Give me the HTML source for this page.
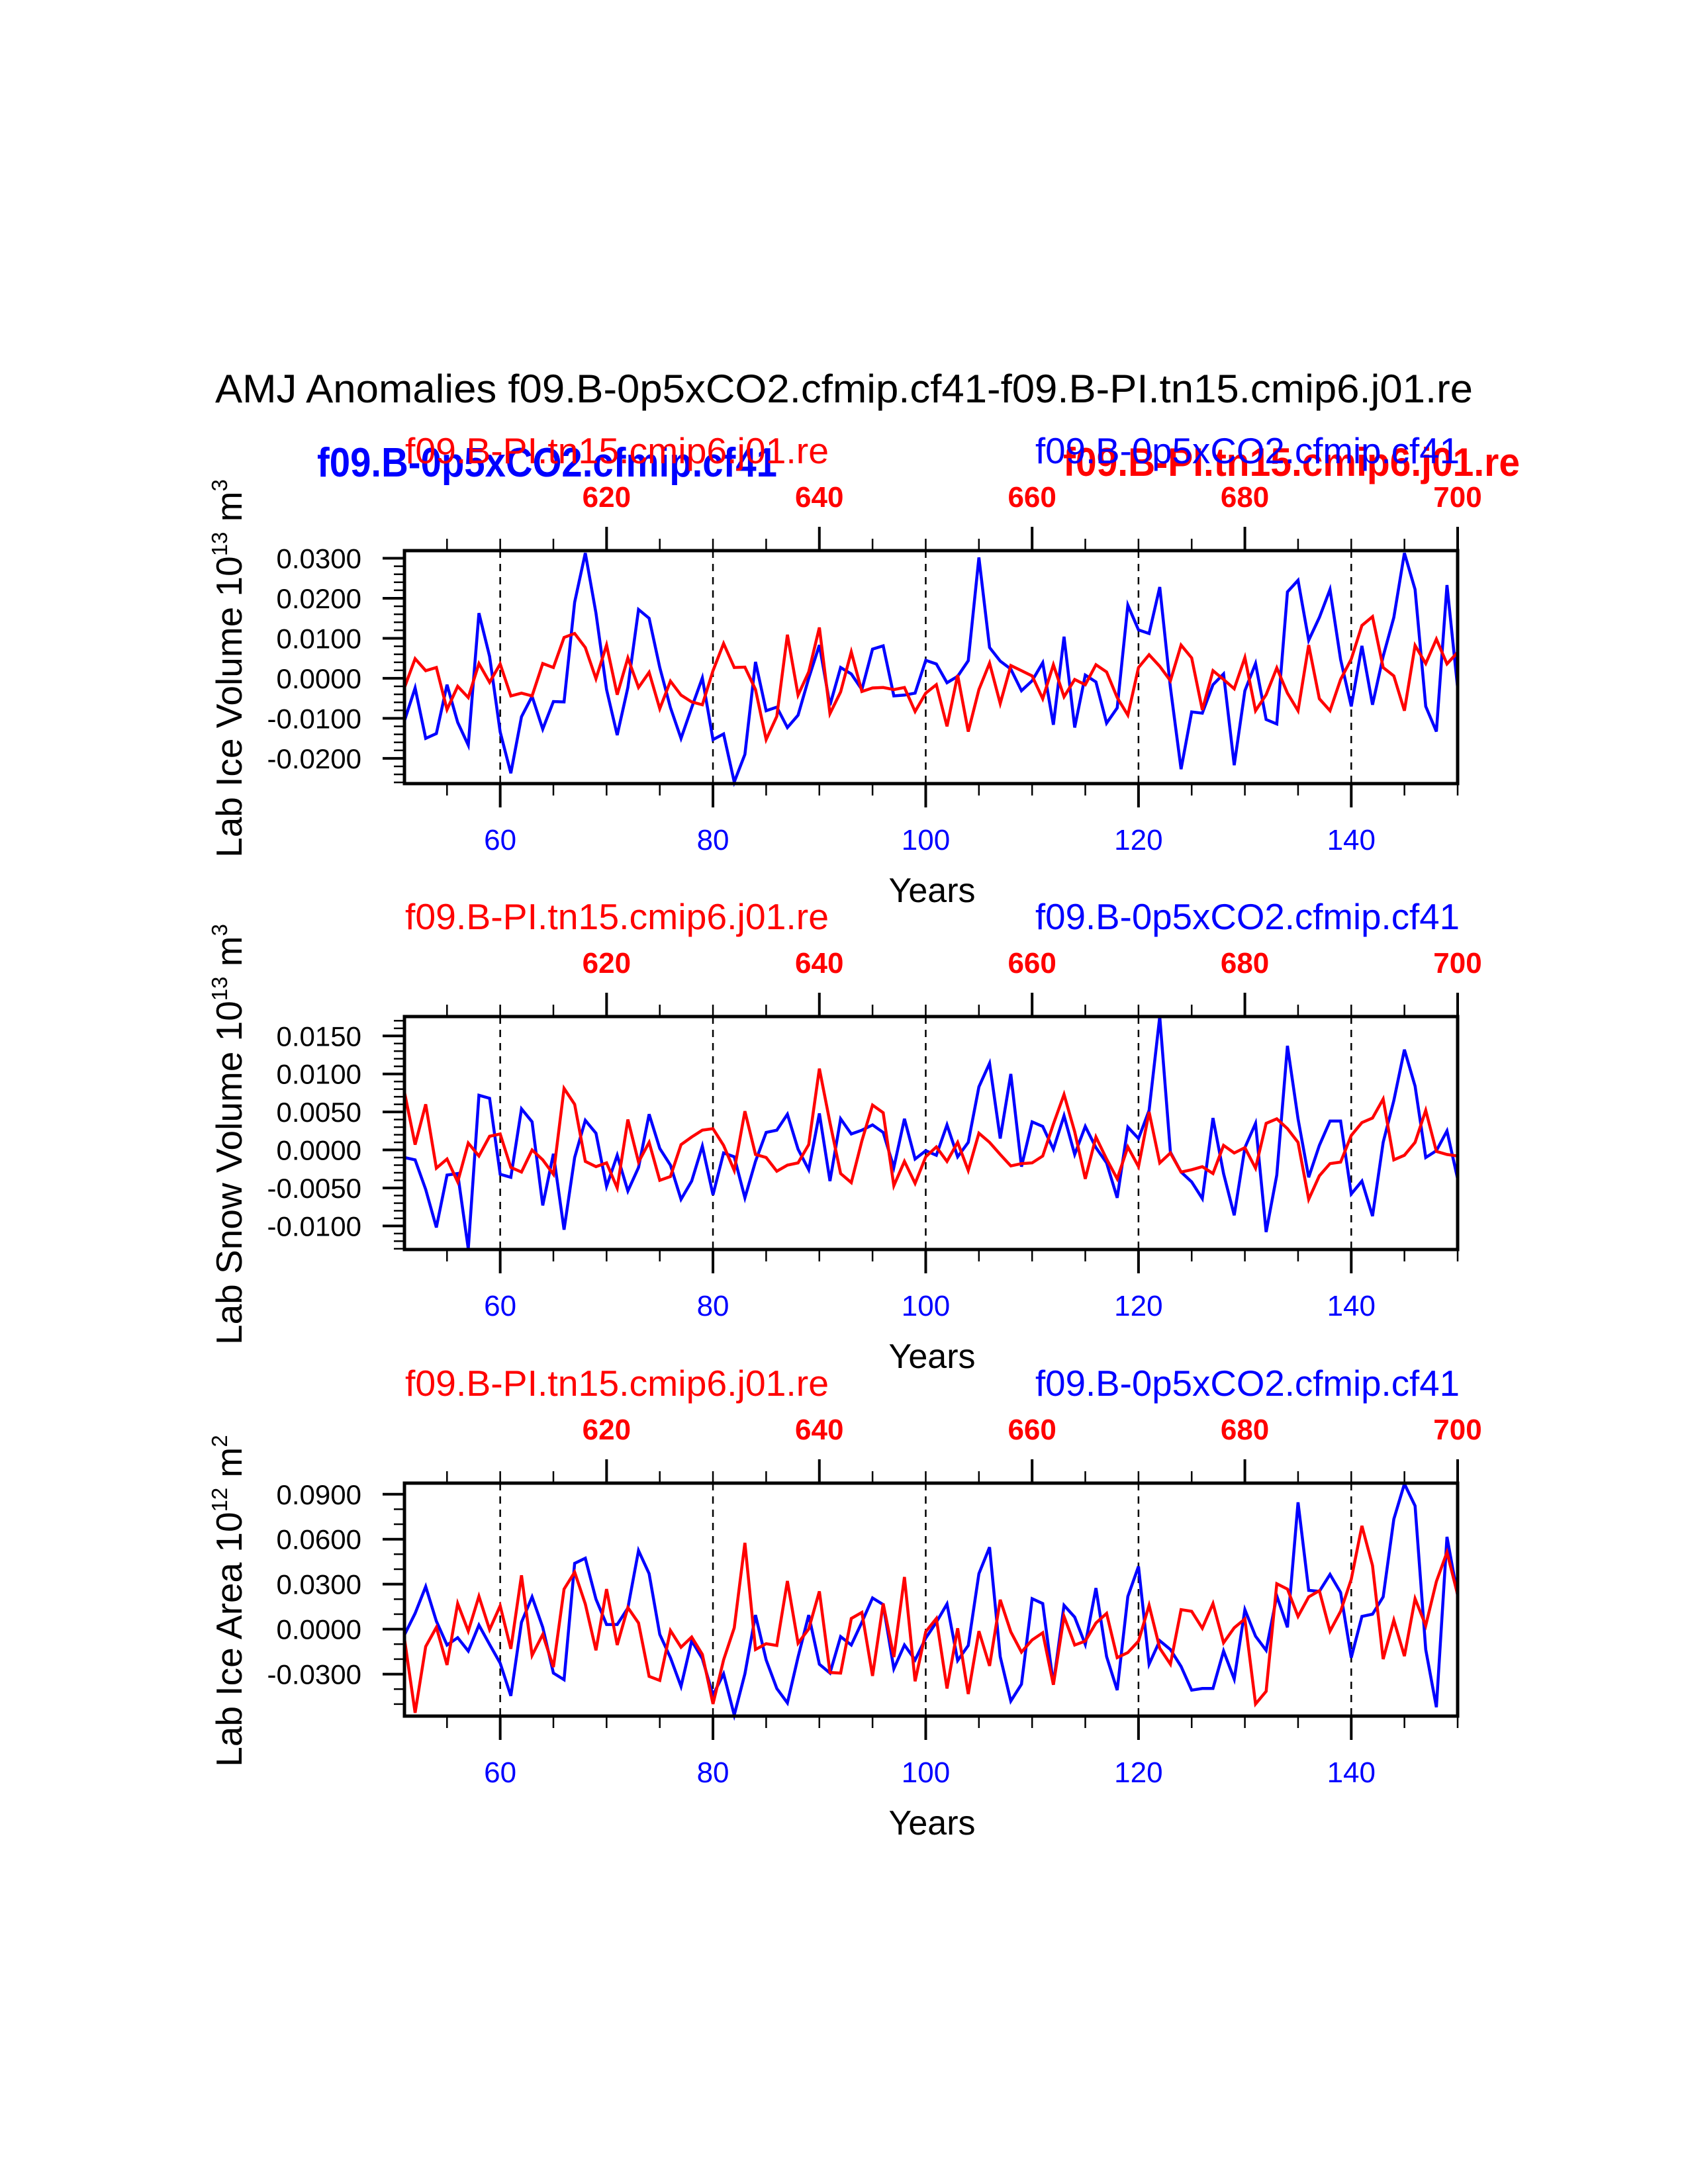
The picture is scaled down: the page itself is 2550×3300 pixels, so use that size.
<!DOCTYPE html>
<html><head><meta charset="utf-8">
<style>
html,body{margin:0;padding:0;background:#fff;}
svg{display:block;}
text{font-family:"Liberation Sans",Arial,sans-serif;}
</style></head>
<body>
<svg id="chart" width="2550" height="3300" viewBox="0 0 2550 3300" xmlns="http://www.w3.org/2000/svg">
<rect x="0" y="0" width="2550" height="3300" fill="#fff"/>
<text x="325" y="608" font-size="60" textLength="1900" lengthAdjust="spacingAndGlyphs">AMJ Anomalies f09.B-0p5xCO2.cfmip.cf41-f09.B-PI.tn15.cmip6.j01.re</text>
<text x="479" y="720" font-size="62" font-weight="bold" fill="#0000ff" textLength="695" lengthAdjust="spacingAndGlyphs">f09.B-0p5xCO2.cfmip.cf41</text>
<text x="1606" y="719" font-size="60" font-weight="bold" fill="#ff0000" textLength="690" lengthAdjust="spacingAndGlyphs">f09.B-PI.tn15.cmip6.j01.re</text>
<g id="plots"></g>
</svg>
<script>
// ---- data (years 51..150) ----
const years = [];
for (let y = 51; y <= 150; y++) years.push(y);

const iceVolBlue = [-0.0106,-0.0024,-0.015,-0.0138,-0.0016,-0.011,-0.0167,0.0163,0.0055,-0.0134,
-0.0237,-0.0096,-0.0045,-0.0127,-0.0058,-0.0059,0.019,0.0313,0.0163,-0.0028,
-0.0142,-0.0023,0.0172,0.015,0.0027,-0.0073,-0.015,-0.0073,0.0001,-0.0153,
-0.0139,-0.0259,-0.019,0.0041,-0.0081,-0.0072,-0.0123,-0.0092,0.0,0.0083,
-0.0067,0.0027,0.0011,-0.0028,0.0073,0.0081,-0.0044,-0.0042,-0.0037,0.0045,
0.0036,-0.0011,0.0005,0.0044,0.0302,0.0077,0.0043,0.0023,-0.0031,-0.0006,
0.0039,-0.0116,0.0104,-0.0123,0.0008,-0.0009,-0.0112,-0.0074,0.0183,0.0121,
0.0112,0.0228,-0.0023,-0.0227,-0.0084,-0.0087,-0.0016,0.0011,-0.0217,-0.0031,
0.0037,-0.0103,-0.0114,0.0216,0.0245,0.0095,0.0152,0.0222,0.0047,-0.007,
0.0081,-0.0066,0.0055,0.0152,0.0313,0.0222,-0.007,-0.0133,0.0233,-0.0024];
const iceVolRed = [-0.0023,0.0049,0.0019,0.0027,-0.0078,-0.002,-0.0048,0.0037,-0.001,0.0036,
-0.0044,-0.0037,-0.0044,0.0037,0.0027,0.0102,0.0112,0.0077,-0.0001,0.0083,
-0.0041,0.0051,-0.0023,0.0015,-0.0076,-0.0007,-0.0042,-0.0059,-0.0066,0.0019,
0.0087,0.0027,0.0028,-0.0028,-0.0153,-0.0095,0.0109,-0.0042,0.0016,0.0127,
-0.0088,-0.0034,0.0066,-0.0033,-0.0024,-0.0023,-0.0028,-0.0023,-0.0083,-0.0037,
-0.0016,-0.012,0.0008,-0.0133,-0.0028,0.0038,-0.0063,0.0032,0.0019,0.0006,
-0.0051,0.0034,-0.0046,-0.0003,-0.0016,0.0034,0.0016,-0.0048,-0.0092,0.0027,
0.0059,0.003,-0.0006,0.0083,0.0051,-0.0079,0.0019,-0.0003,-0.0026,0.0052,
-0.0081,-0.0041,0.0026,-0.0037,-0.0081,0.0083,-0.0051,-0.0081,-0.0003,0.0048,
0.0132,0.0154,0.0027,0.0006,-0.0081,0.0082,0.0037,0.0098,0.0036,0.0065];
const snowVolBlue = [-0.001,-0.0013,-0.0052,-0.0102,-0.0033,-0.0031,-0.013,0.0072,0.0068,-0.0032,
-0.0036,0.0054,0.0037,-0.0073,-0.0005,-0.0105,-0.001,0.0039,0.0022,-0.0048,
-0.0007,-0.0054,-0.0023,0.0047,0.0002,-0.002,-0.0065,-0.0041,0.0005,-0.0059,
-0.0004,-0.0009,-0.0063,-0.0015,0.0023,0.0026,0.0047,0.0001,-0.0026,0.0048,
-0.0041,0.0041,0.0021,0.0026,0.0033,0.0023,-0.0023,0.0041,-0.0012,-0.0001,
-0.0007,0.0033,-0.0009,0.001,0.0083,0.0114,0.0015,0.01,-0.0022,0.0037,
0.0031,0.0001,0.0045,-0.0006,0.0031,0.0003,-0.0017,-0.0063,0.003,0.0015,
0.0052,0.0176,-0.0003,-0.0029,-0.0042,-0.0064,0.0042,-0.0031,-0.0086,0.0003,
0.0035,-0.0108,-0.0033,0.0137,0.0041,-0.0036,0.0006,0.0038,0.0038,-0.0058,
-0.0041,-0.0087,0.001,0.0065,0.0132,0.0084,-0.001,-0.0001,0.0025,-0.0038];
const snowVolRed = [0.0076,0.0007,0.006,-0.0024,-0.0012,-0.0042,0.0009,-0.0008,0.0018,0.0021,
-0.0023,-0.0029,0.0,-0.0013,-0.0032,0.0081,0.006,-0.0015,-0.0022,-0.0017,
-0.005,0.004,-0.0016,0.001,-0.004,-0.0035,0.0007,0.0017,0.0026,0.0028,
0.0006,-0.0027,0.0051,-0.0006,-0.001,-0.0028,-0.002,-0.0017,0.0007,0.0107,
0.0036,-0.0031,-0.0043,0.0012,0.0059,0.0049,-0.0047,-0.0015,-0.0044,-0.0009,
0.0004,-0.0015,0.001,-0.0027,0.0022,0.001,-0.0006,-0.0021,-0.0018,-0.0017,
-0.0008,0.0034,0.0073,0.0024,-0.0038,0.0017,-0.0012,-0.0038,0.0004,-0.0022,
0.005,-0.0017,-0.0004,-0.0029,-0.0026,-0.0022,-0.0031,0.0006,-0.0004,0.0003,
-0.0024,0.0035,0.0041,0.0028,0.001,-0.0065,-0.0034,-0.0018,-0.0016,0.0019,
0.0036,0.0042,0.0067,-0.0013,-0.0007,0.001,0.0052,-0.0002,-0.0006,-0.0008];
const iceAreaBlue = [-0.0038,0.0105,0.0284,0.0053,-0.0106,-0.0057,-0.0146,0.0027,-0.0102,-0.0227,
-0.0445,0.0046,0.0215,0.0012,-0.0293,-0.0337,0.0439,0.0473,0.02,0.0031,
0.0031,0.0141,0.0524,0.037,-0.0035,-0.019,-0.0382,-0.0077,-0.0197,-0.044,
-0.0298,-0.0573,-0.0298,0.0094,-0.0205,-0.0396,-0.0492,-0.0186,0.0094,-0.0234,
-0.0293,-0.005,-0.0106,0.0046,0.0208,0.0164,-0.0264,-0.0106,-0.0205,-0.006,
0.0046,0.0168,-0.0209,-0.0109,0.037,0.0546,-0.0183,-0.048,-0.0367,0.0203,
0.0171,-0.0367,0.0159,0.008,-0.0102,0.0274,-0.0183,-0.0407,0.0218,0.0418,
-0.0234,-0.0077,-0.0136,-0.0249,-0.0407,-0.0396,-0.0396,-0.0146,-0.0333,0.013,
-0.0047,-0.0141,0.0222,0.0012,0.0846,0.0259,0.0252,0.0365,0.0245,-0.019,
0.0085,0.01,0.0215,0.0734,0.0969,0.0822,-0.0136,-0.0521,0.0616,0.0224];
const iceAreaRed = [-0.0065,-0.0558,-0.0116,0.0012,-0.0239,0.0171,-0.0013,0.0219,-0.0003,0.0156,
-0.0131,0.0359,-0.0175,-0.0035,-0.0253,0.0267,0.038,0.0168,-0.0141,0.0267,
-0.0106,0.0144,0.0041,-0.0315,-0.0342,-0.0009,-0.0121,-0.0053,-0.0168,-0.0499,
-0.0205,0.0009,0.0576,-0.0136,-0.0097,-0.0109,0.0321,-0.0094,0.0001,0.0252,
-0.0289,-0.0293,0.0071,0.0112,-0.0312,0.0171,-0.0186,0.0348,-0.0348,-0.0017,
0.0071,-0.0396,0.0006,-0.0433,-0.0013,-0.0245,0.0196,-0.0018,-0.0153,-0.0072,
-0.0024,-0.0371,0.0085,-0.0106,-0.008,0.0041,0.0105,-0.019,-0.0156,-0.008,
0.0159,-0.0127,-0.0234,0.013,0.0119,0.0006,0.0171,-0.0091,0.0009,0.0068,
-0.0499,-0.0415,0.0303,0.0267,0.0085,0.0215,0.0256,-0.0013,0.0119,0.0333,
0.0689,0.0424,-0.02,0.006,-0.018,0.0203,0.0024,0.0318,0.0513,0.023];

const bottomTickLabels = ["60","80","100","120","140"];
const bottomTickYears = [60,80,100,120,140];
const topTickLabels = ["620","640","660","680","700"];
const topTickYears = [70,90,110,130,150];
const p1Ticks = [0.03,0.02,0.01,0.0,-0.01,-0.02];
const p2Ticks = [0.015,0.01,0.005,0.0,-0.005,-0.01];
const p3Ticks = [0.09,0.06,0.03,0.0,-0.03];

const NS = "http://www.w3.org/2000/svg";
const X0 = 611, X1 = 2202, H = 352;
function xScale(yr){ return X0 + (yr - 51) * (X1 - X0) / 99; }

const panels = [
  {top:832, ymax:0.0319, ymin:-0.0263, ticks:p1Ticks, minor:0.002, blue:iceVolBlue, red:iceVolRed, title:["Lab Ice Volume 10","13"," m","3"], key:"ice-volume"},
  {top:1536, ymax:0.01755, ymin:-0.0131, ticks:p2Ticks, minor:0.001, blue:snowVolBlue, red:snowVolRed, title:["Lab Snow Volume 10","13"," m","3"], key:"snow-volume"},
  {top:2241, ymax:0.0974, ymin:-0.058, ticks:p3Ticks, minor:0.01, blue:iceAreaBlue, red:iceAreaRed, title:["Lab Ice Area 10","12"," m","2"], key:"ice-area"}
];

function mk(tag, attrs, parent){
  const e = document.createElementNS(NS, tag);
  for (const k in attrs) e.setAttribute(k, attrs[k]);
  parent.appendChild(e);
  return e;
}
const root = document.getElementById("plots");

panels.forEach(function(p, pi){
  const g = mk("g", {}, root);
  
  
  const top = p.top, bot = top + H;
  function yScale(v){ return top + (p.ymax - v) / (p.ymax - p.ymin) * H; }

  bottomTickYears.forEach(function(yr){
    const l = mk("line", {x1:xScale(yr), x2:xScale(yr), y1:top, y2:bot, stroke:"#000", "stroke-width":2.5, "stroke-dasharray":"11 9"}, g);
    
    
  });

  [["blue", p.blue, "#0000ff"], ["red", p.red, "#ff0000"]].forEach(function(s){
    let d = "";
    s[1].forEach(function(v, i){
      const yy = Math.max(top, Math.min(bot, yScale(v)));
      d += (i ? "L" : "M") + xScale(years[i]).toFixed(1) + " " + yy.toFixed(1);
    });
    const path = mk("path", {d:d, fill:"none", stroke:s[2], "stroke-width":4.5, "stroke-linejoin":"miter"}, g);
    
    
  });

  const fr = mk("rect", {x:X0, y:top, width:X1-X0, height:H, fill:"none", stroke:"#000", "stroke-width":5}, g);
  
  

  for (let yr = 55; yr <= 150; yr += 5) {
    const x = xScale(yr);
    const bmaj = bottomTickYears.indexOf(yr) >= 0;
    const tmaj = topTickYears.indexOf(yr) >= 0;
    const tb = mk("line", {x1:x, x2:x, y1:bot, y2:bot + (bmaj ? 36 : 18), stroke:"#000", "stroke-width": bmaj ? 4 : 2.5}, g);
    
    
    const tt = mk("line", {x1:x, x2:x, y1:top, y2:top - (tmaj ? 36 : 18), stroke:"#000", "stroke-width": tmaj ? 4 : 2.5}, g);
    
    
  }
  bottomTickYears.forEach(function(yr, i){
    const t = mk("text", {x:xScale(yr), y:bot + 100, "font-size":44, fill:"#0000ff", "text-anchor":"middle"}, g);
    t.textContent = bottomTickLabels[i];
    
    
  });
  topTickYears.forEach(function(yr, i){
    const t = mk("text", {x:xScale(yr), y:top - 66, "font-size":44, "font-weight":"bold", fill:"#ff0000", "text-anchor":"middle"}, g);
    t.textContent = topTickLabels[i];
    
    
  });

  const nMin = Math.ceil(p.ymin / p.minor - 1e-6), nMax = Math.floor(p.ymax / p.minor + 1e-6);
  for (let k = nMin; k <= nMax; k++) {
    const y = yScale(k * p.minor);
    const mt = mk("line", {x1:X0 - 16, x2:X0, y1:y, y2:y, stroke:"#000", "stroke-width":2.5}, g);
    
    
  }
  p.ticks.forEach(function(v){
    const y = yScale(v);
    const mt = mk("line", {x1:X0 - 33, x2:X0, y1:y, y2:y, stroke:"#000", "stroke-width":4}, g);
    
    
    const t = mk("text", {x:546, y:y + 15, "font-size":42, "text-anchor":"end"}, g);
    t.textContent = v.toFixed(4);
    
    
  });

  const yt = mk("text", {x:0, y:0, "font-size":55, "text-anchor":"middle", transform:"translate(365," + (top + 178) + ") rotate(-90)"}, g);
  
  
  const a = mk("tspan", {}, yt); a.textContent = p.title[0];
  const b = mk("tspan", {dy:-22, "font-size":33}, yt); b.textContent = p.title[1];
  const c = mk("tspan", {dy:22}, yt); c.textContent = p.title[2];
  const d = mk("tspan", {dy:-22, "font-size":33}, yt); d.textContent = p.title[3];

  const xt = mk("text", {x:1408, y:bot + 179, "font-size":52, "text-anchor":"middle"}, g);
  xt.textContent = "Years";
  
  

  const rl = mk("text", {x:612, y:top - 132, "font-size":55, fill:"#ff0000", textLength:640, lengthAdjust:"spacingAndGlyphs"}, g);
  rl.textContent = "f09.B-PI.tn15.cmip6.j01.re";
  
  
  const bl = mk("text", {x:1564, y:top - 132, "font-size":55, fill:"#0000ff", textLength:641, lengthAdjust:"spacingAndGlyphs"}, g);
  bl.textContent = "f09.B-0p5xCO2.cfmip.cf41";
  
  
});
</script>
</body></html>
